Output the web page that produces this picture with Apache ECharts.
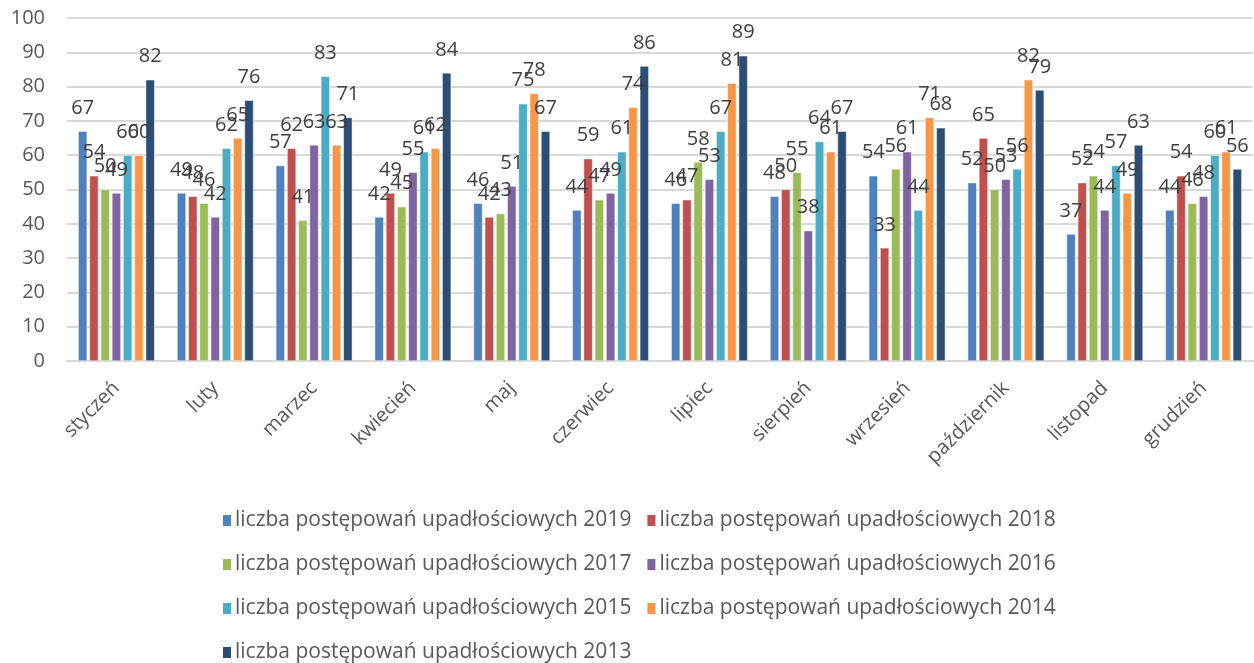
<!DOCTYPE html>
<html><head><meta charset="utf-8">
<script src="https://cdn.jsdelivr.net/npm/echarts@6/dist/echarts.min.js"></script>
<style>html,body{margin:0;padding:0;background:#fff}#c{width:1254px;height:663px}</style>
</head><body><div id="c"></div>
<script>
const categories = ['styczeń','luty','marzec','kwiecień','maj','czerwiec','lipiec','sierpień','wrzesień','październik','listopad','grudzień'];
const yTicks = [0,10,20,30,40,50,60,70,80,90,100];
const seriesNames = ['liczba postępowań upadłościowych 2019','liczba postępowań upadłościowych 2018','liczba postępowań upadłościowych 2017','liczba postępowań upadłościowych 2016','liczba postępowań upadłościowych 2015','liczba postępowań upadłościowych 2014','liczba postępowań upadłościowych 2013'];
const v2019 = [67,49,57,42,46,44,46,48,54,52,37,44];
const v2018 = [54,48,62,49,42,59,47,50,33,65,52,54];
const v2017 = [50,46,41,45,43,47,58,55,56,50,54,46];
const v2016 = [49,42,63,55,51,49,53,38,61,53,44,48];
const v2015 = [60,62,83,61,75,61,67,64,44,56,57,60];
const v2014 = [60,65,63,62,78,74,81,61,71,82,49,61];
const v2013 = [82,76,71,84,67,86,89,67,68,79,63,56];
const values = [v2019,v2018,v2017,v2016,v2015,v2014,v2013];
const colors = ['#4F81BD','#C0504D','#9BBB59','#8064A2','#4BACC6','#F79646','#2C4D75'];
const font = '"Open Sans", "DejaVu Sans", sans-serif';
const chart = echarts.init(document.getElementById('c'));
const legendRows = [[0,1],[2,3],[4,5],[6]];
const legends = legendRows.map((row,i)=>({
  left: 216, top: 505 + i*44, orient:'horizontal', itemWidth: 10, itemHeight: 13, itemGap: 14,
  icon: 'rect', data: row.map(k=>seriesNames[k]),
  textStyle: {fontFamily: font, fontSize: 21, color: '#595959', padding:[0,0,0,-2]}
}));
chart.setOption({
  animation: false,
  color: colors,
  grid: {left: 67, right: 1, top: 18, bottom: 302, containLabel: false},
  legend: legends,
  xAxis: {
    type: 'category', data: categories,
    axisLine: {lineStyle: {color: '#D9D9D9', width: 2}},
    axisTick: {show: false},
    axisLabel: {rotate: 45, fontFamily: font, fontSize: 20, color: '#595959', margin: 24, interval: 0}
  },
  yAxis: {
    type: 'value', min: yTicks[0], max: yTicks[yTicks.length-1], interval: 10,
    axisLine: {show: false}, axisTick: {show: false},
    splitLine: {lineStyle: {color: '#D9D9D9', width: 2}},
    axisLabel: {fontFamily: font, fontSize: 20, color: '#595959', margin: 22}
  },
  series: values.map((d,i)=>({
    name: seriesNames[i], type: 'bar', data: d,
    barWidth: 9, barGap: '25%', barCategoryGap: '21%',
    itemStyle: {color: colors[i], borderColor: '#fff', borderWidth: 0.5},
    label: {show: true, position: 'top', distance: 13, fontFamily: font, fontSize: 20, color: '#404040'}
  }))
});
</script></body></html>
